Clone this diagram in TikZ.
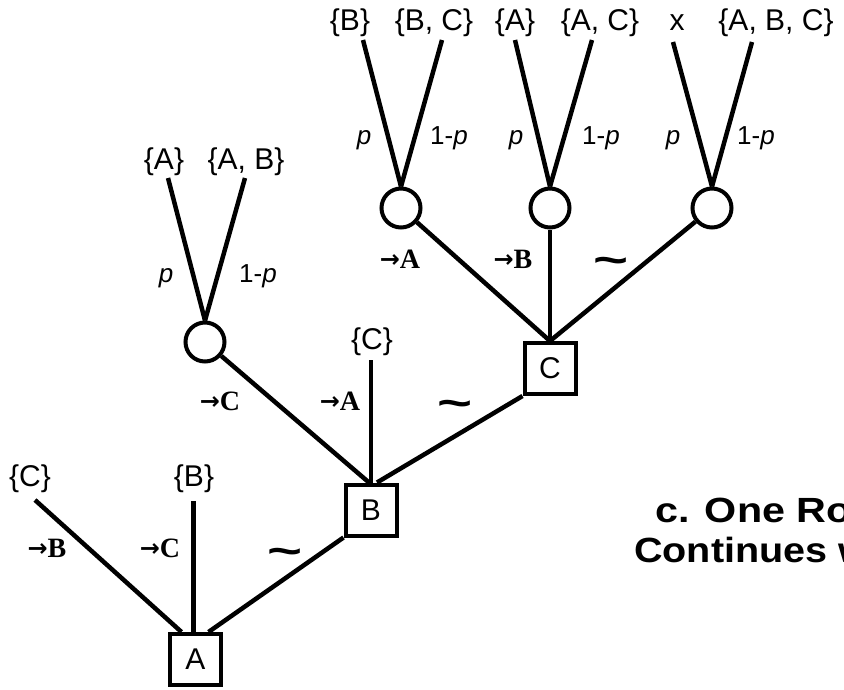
\documentclass[tikz,border=0pt]{standalone}
\usepackage{fontspec}
\setmainfont{Liberation Sans}
\newfontfamily\serifb{Liberation Serif}
\newfontfamily\dejab{DejaVu Sans}
\newcommand{\actarrow}{{\dejab\bfseries\fontsize{24}{24}\selectfont\raisebox{0.5pt}{→}}}
\begin{document}
\begin{tikzpicture}[x=1pt,y=-1pt,line width=4.5pt,
  sq/.style={draw,line width=4pt,minimum size=51pt,inner sep=0pt,font=\fontsize{30}{30}\selectfont},
  chance/.style={draw,circle,line width=4pt,minimum size=39pt,inner sep=0pt},
  lbl/.style={font=\fontsize{30}{30}\selectfont,anchor=base,inner sep=0pt},
  prob/.style={font=\fontsize{26}{26}\selectfont,anchor=base,inner sep=0pt},
  act/.style={font=\serifb\bfseries\fontsize{28}{28}\selectfont,anchor=base,inner sep=0pt},
  tld/.style={inner sep=0pt,font=\bfseries\fontsize{30}{30}\selectfont},
  ttl/.style={font=\bfseries\fontsize{35}{35}\selectfont,anchor=base west,inner sep=0pt}
]
\useasboundingbox (0,0) rectangle (844,689);
\clip (0,0) rectangle (844,689);
\fill[white] (0,0) rectangle (844,689);

% decision squares
\node[sq] (A) at (195.5,659.5) {A};
\node[sq] (B) at (371,510) {B};
\node[sq] (C) at (550,368.5) {C};

% chance circles
\node[chance] (L) at (205,342) {};
\node[chance] (T1) at (401,208) {};
\node[chance] (T2) at (550,208) {};
\node[chance] (T3) at (712,208) {};

% free ends
\coordinate (eAC) at (35,500);
\coordinate (eAB) at (193.5,501);
\coordinate (eBC) at (371,360);
\coordinate (eL1) at (168,178);
\coordinate (eL2) at (245,178);
\coordinate (e11) at (363,40);
\coordinate (e12) at (442,40);
\coordinate (e21) at (515,40);
\coordinate (e22) at (592,40);
\coordinate (e31) at (673,42);
\coordinate (e32) at (752,42);

% connectors
\draw ([xshift=-14pt]A.north) -- (eAC);
\draw ([xshift=-2pt]A.north) -- (eAB);
\draw ([xshift=13pt]A.north) -- (B.south west);
\draw (B.north) -- (eBC);
\draw ([xshift=-2pt]B.north) -- (L);
\draw ([xshift=6pt]B.north) -- (C.south west);
\draw (C.north) -- (T1);
\draw (C.north) -- (T2);
\draw (C.north) -- (T3);
\draw (L.north) -- (eL1);
\draw (L.north) -- (eL2);
\draw (T1.north) -- (e11);
\draw (T1.north) -- (e12);
\draw (T2.north) -- (e21);
\draw (T2.north) -- (e22);
\draw (T3.north) -- (e31);
\draw (T3.north) -- (e32);

% outcome labels
\node[lbl] (oA1) at (30,486) {\{C\}};
\node[lbl] (oA2) at (194,486) {\{B\}};
\node[lbl] (oB1) at (372,349) {\{C\}};
\node[lbl] (oL1) at (164,169) {\{A\}};
\node[lbl] (oL2) at (246,169) {\{A, B\}};
\node[lbl] (o11) at (350,30) {\{B\}};
\node[lbl] (o12) at (434,30) {\{B, C\}};
\node[lbl] (o21) at (515,30) {\{A\}};
\node[lbl] (o22) at (600,30) {\{A, C\}};
\node[lbl] (o31) at (677,30) {x};
\node[lbl] (o32) at (776,30) {\{A, B, C\}};

% probabilities
\node[prob] (pL1) at (166,282) {\textit{p}};
\node[prob] (pL2) at (258,282) {1-\textit{p}};
\node[prob] (p11) at (364,144) {\textit{p}};
\node[prob] (p12) at (449,144) {1-\textit{p}};
\node[prob] (p21) at (516,144) {\textit{p}};
\node[prob] (p22) at (601,144) {1-\textit{p}};
\node[prob] (p31) at (673,144) {\textit{p}};
\node[prob] (p32) at (756,144) {1-\textit{p}};

% action labels
\node[act] (aA1) at (47,557) {\actarrow B};
\node[act] (aA2) at (160,557) {\actarrow C};
\node[act] (aB1) at (220,410) {\actarrow C};
\node[act] (aB2) at (340,410) {\actarrow A};
\node[act] (aC1) at (400,268) {\actarrow A};
\node[act] (aC2) at (513,268) {\actarrow B};

% tildes
\node[tld] (w1) at (285,557) {\scalebox{2.0}[1.4]{\textasciitilde}};
\node[tld] (w2) at (455,409) {\scalebox{2.0}[1.4]{\textasciitilde}};
\node[tld] (w3) at (611,266) {\scalebox{2.0}[1.4]{\textasciitilde}};

% caption (cut by the frame, as in the reference)
\node[ttl] (t1) at (653,522) {\scalebox{1.18}[1]{c. One Round}};
\node[ttl] (t2) at (632,562) {\scalebox{1.13}[1]{Continues with}};
\end{tikzpicture}
\end{document}
